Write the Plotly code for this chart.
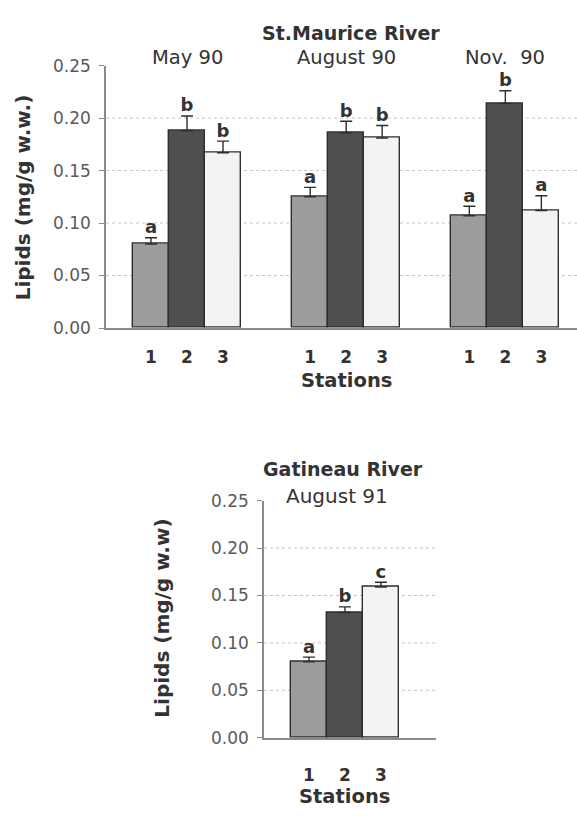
import plotly.graph_objects as go

# ---------------- data ----------------
stations = ["1", "2", "3"]

top_title = "St.Maurice River"
top_groups = ["May 90", "August 90", "Nov.  90"]
top_values = [
    [0.080, 0.188, 0.167],   # May 90
    [0.125, 0.186, 0.181],   # August 90
    [0.107, 0.214, 0.112],   # Nov. 90
]
top_errors = [
    [0.006, 0.014, 0.011],
    [0.009, 0.011, 0.012],
    [0.009, 0.012, 0.014],
]
top_letters = [
    ["a", "b", "b"],
    ["a", "b", "b"],
    ["a", "b", "a"],
]

bot_title = "Gatineau River"
bot_groups = ["August 91"]
bot_values = [[0.080, 0.132, 0.159]]
bot_errors = [[0.005, 0.006, 0.005]]
bot_letters = [["a", "b", "c"]]

y_ticks = [0.00, 0.05, 0.10, 0.15, 0.20, 0.25]
y_tick_text = ["0.00", "0.05", "0.10", "0.15", "0.20", "0.25"]
grid_vals = [0.05, 0.10, 0.15, 0.20]

top_ytitle = "Lipids (mg/g w.w.)"
bot_ytitle = "Lipids (mg/g w.w)"
xtitle = "Stations"

# ---------------- style ----------------
W, H = 577, 816
FONT = "DejaVu Sans"
TXT = "#333333"
TICKTXT = "#5a5a5a"
AXIS = "#8a8a8a"
fills = ["#9c9c9c", "#4f4f4f", "#f3f3f3"]
EDGE = "#2e2e2e"
GROUP_STEP = 4.42  # distance between group starts, in bar widths


def px_x(p):
    return p / W


def px_y(p):
    return 1 - p / H


fig = go.Figure()


def add_panel(groups, values, errors, letters, xa, ya):
    tickvals, ticktext = [], []
    for s, st in enumerate(stations):
        xs = [g * GROUP_STEP + s for g in range(len(groups))]
        vs = [values[g][s] for g in range(len(groups))]
        es = [errors[g][s] for g in range(len(groups))]
        fig.add_trace(go.Bar(
            x=xs, y=vs, width=1.0, xaxis=xa, yaxis=ya,
            marker=dict(color=fills[s], line=dict(color=EDGE, width=1.4)),
            error_y=dict(type="data", symmetric=False, array=es,
                         arrayminus=[0] * len(es), color=EDGE,
                         thickness=1.4, width=6),
            showlegend=False, hoverinfo="skip",
        ))
        fig.add_trace(go.Scatter(
            x=xs, y=[v + e for v, e in zip(vs, es)], xaxis=xa, yaxis=ya,
            mode="text", text=[letters[g][s] for g in range(len(groups))],
            textposition="top center",
            textfont=dict(family=FONT, size=18, color=TXT, weight="bold"),
            showlegend=False, hoverinfo="skip", cliponaxis=False,
        ))
        tickvals += xs
        ticktext += [st] * len(xs)
    return tickvals, ticktext


tv1, tt1 = add_panel(top_groups, top_values, top_errors, top_letters, "x", "y")
tv2, tt2 = add_panel(bot_groups, bot_values, bot_errors, bot_letters, "x2", "y2")

xaxis_common = dict(showline=True, linecolor=AXIS, linewidth=1.5, ticks="",
                    showgrid=False, zeroline=False,
                    tickfont=dict(family=FONT, size=17, color=TXT, weight="bold"))
yaxis_common = dict(range=[0, 0.25], tickvals=y_ticks, ticktext=y_tick_text,
                    showline=True, linecolor=AXIS, linewidth=1.5,
                    ticks="outside", ticklen=5, tickcolor=AXIS, tickwidth=1.2,
                    showgrid=False, zeroline=False, ticklabelstandoff=5,
                    tickfont=dict(family=FONT, size=17, color=TICKTXT))

fig.update_layout(
    width=W, height=H, margin=dict(l=0, r=0, t=0, b=0),
    paper_bgcolor="white", plot_bgcolor="white",
    bargap=0, barmode="overlay",
    xaxis=dict(domain=[px_x(106), 1.0], range=[-1.25, 11.83],
               tickvals=tv1, ticktext=tt1, anchor="y",
               ticklabelstandoff=13, **xaxis_common),
    yaxis=dict(domain=[px_y(326), px_y(57)], anchor="x", **yaxis_common),
    xaxis2=dict(domain=[px_x(264), px_x(436)], range=[-1.25, 3.53],
                tickvals=tv2, ticktext=tt2, anchor="y2",
                ticklabelstandoff=21, **xaxis_common),
    yaxis2=dict(domain=[px_y(746), px_y(503)], anchor="x2", **yaxis_common),
)

# dotted grid lines
for xr, yr in (("x domain", "y"), ("x2 domain", "y2")):
    for gv in grid_vals:
        fig.add_shape(type="line", xref=xr, yref=yr, x0=0, x1=1, y0=gv, y1=gv,
                      line=dict(color="#c4c4c4", width=1, dash="dot"), layer="below")


def note(text, x, y, size, bold=False, xref="paper", angle=0):
    f = dict(family=FONT, size=size, color=TXT)
    if bold:
        f["weight"] = "bold"
    return dict(text=text, x=x, y=y, xref=xref, yref="paper", textangle=angle,
                xanchor="center", yanchor="middle", showarrow=False, font=f)


ann = []
ann.append(note(top_title, px_x(351), px_y(24), 19, bold=True))
for g, name in enumerate(top_groups):
    ann.append(note(name.replace("  ", "&nbsp; "), g * GROUP_STEP + 1, px_y(49), 19.5, xref="x"))
ann.append(note(bot_title, px_x(343), px_y(471), 19, bold=True))
ann.append(note(bot_groups[0], px_x(337), px_y(498), 20))
ann.append(note(top_ytitle, px_x(23), px_y(192), 20, bold=True, angle=-90))
ann.append(note(bot_ytitle, px_x(162), px_y(624), 20, bold=True, angle=-90))
ann.append(note(xtitle, GROUP_STEP + 1, px_y(380), 19.5, bold=True, xref="x"))
ann.append(note(xtitle, 1, px_y(806), 19.5, bold=True, xref="x2"))
fig.update_layout(annotations=ann)

fig.write_html("out.html")
